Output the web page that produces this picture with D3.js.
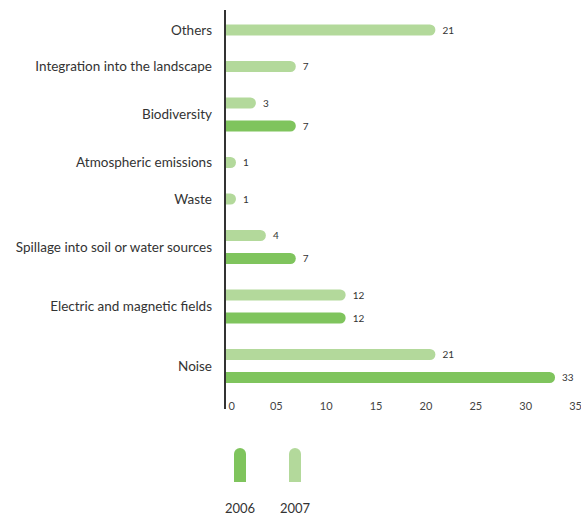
<!DOCTYPE html>
<html>
<head>
<meta charset="utf-8">
<script src="https://cdn.jsdelivr.net/npm/d3@7"></script>
<style>
  body { margin: 0; background: #fff; }
  text { font-family: Lato, "Open Sans", sans-serif; }
</style>
</head>
<body>
<div id="chart"></div>
<script>
// categories, top to bottom
var categories = [
  "Others",
  "Integration into the landscape",
  "Biodiversity",
  "Atmospheric emissions",
  "Waste",
  "Spillage into soil or water sources",
  "Electric and magnetic fields",
  "Noise"
];
// null = no bar for that year
var values2007 = [21, 7, 3, 1, 1, 4, 12, 21];
var values2006 = [null, null, 7, null, null, 7, 12, 33];
var colors = ["#b3d99b", "#7fc45d"];
var xTicks = [0, 5, 10, 15, 20, 25, 30, 35];
var legendYears = ["2006", "2007"];
var legendColors = ["#7fc45d", "#b3d99b"];

var width = 581;
var height = 517;

var svg = d3.select("#chart")
  .append("svg")
  .attr("width", width)
  .attr("height", height);

var x = d3.scaleLinear().domain([0, 35]).range([226, 575]);

// each category is as tall as the number of bars it holds
var pitch = 23, gap = 13.5, barH = 11;
var rows = [];
var offset = 0;
categories.forEach(function (c, i) {
  var bars = [];
  [values2007, values2006].forEach(function (arr, s) {
    if (arr[i] != null) bars.push({ series: s, value: arr[i] });
  });
  var size = gap + bars.length * pitch;
  rows.push({ name: c, bars: bars, start: offset, size: size });
  offset += size;
});
var y = d3.scaleLinear().domain([0, offset]).range([11.75, 11.75 + offset]);

// rounded-right bar path
function barPath(x0, x1, cy, h) {
  var r = h / 2;
  var w = Math.max(x1 - x0 - r, 0);
  return "M" + x0 + "," + (cy - r) +
    "h" + w +
    "a" + r + "," + r + " 0 0 1 0," + h +
    "h" + (-w) + "Z";
}

var g = svg.append("g");

rows.forEach(function (row) {
  var center = y(row.start + row.size / 2);
  g.append("text")
    .attr("x", 212)
    .attr("y", center)
    .attr("dy", "0.35em")
    .attr("text-anchor", "end")
    .attr("font-size", 13.5)
    .attr("fill", "#333")
    .text(row.name);

  var n = row.bars.length;
  row.bars.forEach(function (b, k) {
    var cy = center + (k - (n - 1) / 2) * pitch;
    g.append("path")
      .attr("d", barPath(x(0), x(b.value), cy, barH))
      .attr("fill", colors[b.series]);
    g.append("text")
      .attr("x", x(b.value) + 7)
      .attr("y", cy)
      .attr("dy", "0.35em")
      .attr("font-size", 10)
      .attr("fill", "#333")
      .text(b.value);
  });
});

// vertical axis line
svg.append("line")
  .attr("x1", 225).attr("x2", 225)
  .attr("y1", 10).attr("y2", 409)
  .attr("stroke", "#333")
  .attr("stroke-width", 2);

// x tick labels
var axis = d3.axisBottom(x)
  .tickValues(xTicks)
  .tickSize(0)
  .tickFormat(function (d) { return d === 0 ? "0" : d3.format("02d")(d); });

var ax = svg.append("g")
  .attr("transform", "translate(0,400)")
  .call(axis);
ax.select(".domain").remove();
ax.selectAll("text")
  .attr("font-family", "Lato, 'Open Sans', sans-serif")
  .attr("font-size", 11)
  .attr("fill", "#444")
  .attr("dy", "0.71em")
  .attr("y", 2);
ax.selectAll(".tick").filter(function (d) { return d === 0; })
  .select("text").attr("text-anchor", "start").attr("x", 2);

// legend
var lx = d3.scalePoint().domain(legendYears).range([240, 295]);
legendYears.forEach(function (yr, i) {
  var cx = lx(yr), w = 12, top = 448, bottom = 482, r = 6;
  svg.append("path")
    .attr("d", "M" + (cx - w / 2) + "," + bottom +
      "V" + (top + r) +
      "a" + r + "," + r + " 0 0 1 " + w + ",0" +
      "V" + bottom + "Z")
    .attr("fill", legendColors[i]);
  svg.append("text")
    .attr("x", cx)
    .attr("y", 508)
    .attr("dy", "0.35em")
    .attr("text-anchor", "middle")
    .attr("font-size", 13)
    .attr("fill", "#333")
    .text(yr);
});
</script>
</body>
</html>
